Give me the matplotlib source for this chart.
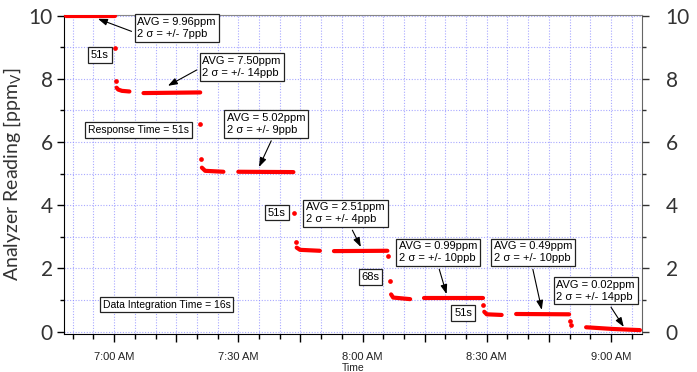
import matplotlib
matplotlib.use("Agg")
import matplotlib.pyplot as plt
from matplotlib.ticker import MultipleLocator, FuncFormatter

# time axis in minutes after midnight, readings in ppmV
trace_t = [
    [408.4, 420.2],
    [420.6, 421.0, 421.9, 423.7],
    [427.1, 440.8],
    [441.2, 442.0, 446.4],
    [450.0, 463.3],
    [464.1, 464.9, 469.7],
    [473.1, 486.0],
    [486.9, 487.4, 491.5],
    [494.9, 509.0],
    [509.4, 510.0, 513.6],
    [517.1, 529.9],
    [534.0, 540.6, 547.0],
]
trace_v = [
    [9.99, 9.99],
    [7.72, 7.66, 7.62, 7.60],
    [7.55, 7.57],
    [5.19, 5.09, 5.06],
    [5.06, 5.05],
    [2.66, 2.59, 2.56],
    [2.55, 2.56],
    [1.18, 1.08, 1.03],
    [1.06, 1.06],
    [0.63, 0.55, 0.53],
    [0.56, 0.55],
    [0.14, 0.085, 0.05],
]
# single readings during the step changes
step_t = [420.2, 420.5, 440.8, 441.0, 463.5, 463.9, 486.2, 486.6, 509.2, 530.1, 530.3]
step_v = [8.99, 7.94, 6.56, 5.47, 3.75, 2.85, 2.40, 1.60, 0.84, 0.35, 0.21]

avg_text = [
    "AVG = 9.96ppm\n2 \u03c3 = +/- 7ppb",
    "AVG = 7.50ppm\n2 \u03c3 = +/- 14ppb",
    "AVG = 5.02ppm\n2 \u03c3 = +/- 9ppb",
    "AVG = 2.51ppm\n2 \u03c3 = +/- 4ppb",
    "AVG = 0.99ppm\n2 \u03c3 = +/- 10ppb",
    "AVG = 0.49ppm\n2 \u03c3 = +/- 10ppb",
    "AVG = 0.02ppm\n2 \u03c3 = +/- 14ppb",
]
# (box centre, arrow tip, arrow start on box)
avg_box = [(435.1, 9.60), (450.8, 8.38), (456.7, 6.57), (475.9, 3.74),
           (498.3, 2.51), (521.2, 2.51), (536.3, 1.30)]
avg_tip = [(416.1, 9.90), (433.0, 7.78), (455.0, 5.21), (479.6, 2.68),
           (500.3, 1.19), (523.3, 0.69), (543.1, 0.15)]
avg_rel = [(0, 0.26), (0, 0.5), (0.6, 0), (0.55, 0), (0.49, 0), (0.48, 0), (0.65, 0)]

note_text = ["51s", "Response Time = 51s", "51s", "68s", "51s",
             "Data Integration Time = 16s"]
note_pos = [(416.6, 8.75), (425.9, 6.38), (459.35, 3.77), (481.9, 1.73),
            (504.3, 0.59), (432.7, 0.86)]
note_size = [8, 7.5, 8, 8, 8, 7.5]

fig = plt.figure(figsize=(6.97, 3.72), dpi=100)
ax = fig.add_axes([64 / 697, 1 - 334 / 372, (642 - 64) / 697, (334 - 15) / 372])

for t, v in zip(trace_t, trace_v):
    ax.plot(t, v, color="#ff0000", lw=3.0, solid_capstyle="round", zorder=3)
ax.plot(step_t, step_v, "o", color="#ff0000", ms=3.4, mec="none", zorder=3)

ax.set_xlim(407.9, 547.5)
ax.set_ylim(-0.073, 10.02)


def fmt_time(x, pos):
    m = int(round(x))
    if m % 30:
        return ""
    h, mm = divmod(m, 60)
    return f"{h}:{mm:02d} AM"


ax.xaxis.set_major_locator(MultipleLocator(15))
ax.xaxis.set_minor_locator(MultipleLocator(5))
ax.xaxis.set_major_formatter(FuncFormatter(fmt_time))
ax.yaxis.set_major_locator(MultipleLocator(2))
ax.yaxis.set_minor_locator(MultipleLocator(1))

ax.grid(True, which="both", color="#8c8cff", ls=(0, (1, 1.5)), lw=0.8, alpha=0.75)
ax.set_axisbelow(True)

ax.tick_params(axis="x", which="major", length=6, width=1, pad=7, labelsize=8,
               labelcolor="#222222")
ax.tick_params(axis="x", which="minor", length=3.5, width=1)
ax.tick_params(axis="y", which="major", length=5, width=1, pad=3, labelsize=15,
               labelcolor="#333333")
ax.tick_params(axis="y", which="minor", length=3, width=1)
for lab in ax.get_xticklabels():
    lab.set_family("Liberation Sans")
for lab in ax.get_yticklabels():
    lab.set_family("Lato")

ax.spines["top"].set_color("#888888")
ax.spines["right"].set_color("#666666")

ax2 = ax.twinx()
ax2.set_ylim(ax.get_ylim())
ax2.yaxis.set_major_locator(MultipleLocator(2))
ax2.yaxis.set_minor_locator(MultipleLocator(1))
ax2.tick_params(axis="y", which="major", length=5, width=1, pad=12, labelsize=15,
                labelcolor="#333333", color="#333333")
ax2.tick_params(axis="y", which="minor", length=3, width=1, color="#333333")
for lab in ax2.get_yticklabels():
    lab.set_family("Lato")
for s in ax2.spines.values():
    s.set_visible(False)

ax.set_ylabel("Analyzer Reading [ppm$_\\mathregular{V}$]", family="Lato",
              fontsize=14, color="#333333", labelpad=4)
ax.set_xlabel("Time", family="Liberation Sans", fontsize=7.5, color="#222222",
              labelpad=1)

for txt, box, tip, rel in zip(avg_text, avg_box, avg_tip, avg_rel):
    ax.annotate(txt, xy=tip, xytext=box, ha="center", va="center",
                multialignment="left",
                fontsize=8, family="Liberation Sans", linespacing=1.25,
                bbox=dict(boxstyle="square,pad=0.25", fc="white", ec="#222222", lw=0.9),
                arrowprops=dict(arrowstyle="-|>,head_length=0.7,head_width=0.25",
                                color="black", lw=0.8, relpos=rel,
                                shrinkA=2, shrinkB=0),
                zorder=5)

for txt, pos, fs in zip(note_text, note_pos, note_size):
    ax.text(pos[0], pos[1], txt, ha="center", va="center", fontsize=fs,
            family="Liberation Sans",
            bbox=dict(boxstyle="square,pad=0.25", fc="white", ec="#222222", lw=0.9),
            zorder=5)

fig.savefig("out.png", dpi=100)
